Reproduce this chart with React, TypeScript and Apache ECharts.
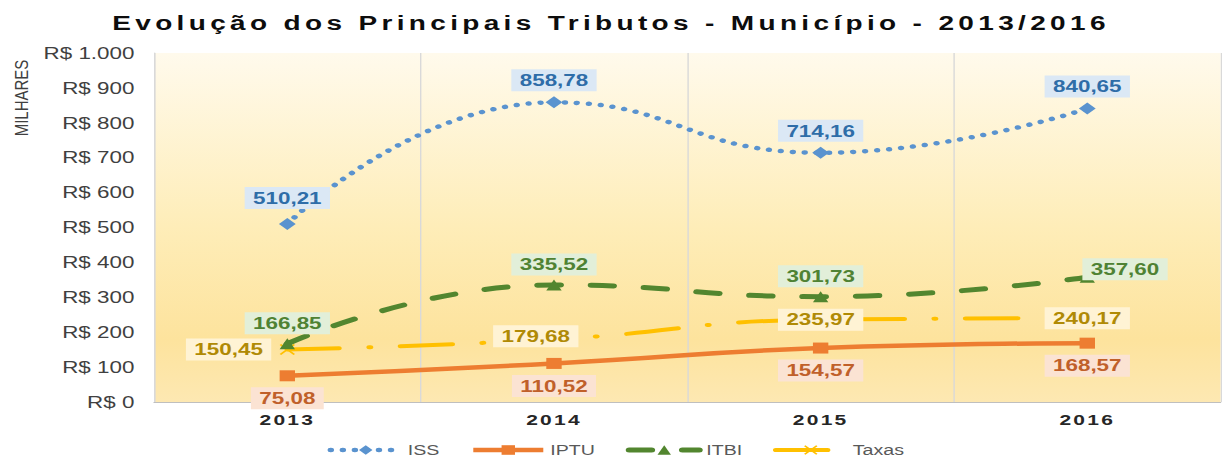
import { useEffect, useRef } from 'react';
import * as echarts from 'echarts';

// The reference picture is horizontally stretched; render narrower and stretch with CSS.
const FULL_W = 1222;
const H = 459;
const STRETCH = 1.4;
const W = FULL_W / STRETCH;

const FONT = '"Liberation Sans", Arial, Helvetica, sans-serif';

const titleText = 'Evolução dos Principais Tributos - Município - 2013/2016';
const yAxisTitle = 'MILHARES';
const categories = ['2013', '2014', '2015', '2016'];
const issValues = [510.21, 858.78, 714.16, 840.65];
const iptuValues = [75.08, 110.52, 154.57, 168.57];
const itbiValues = [166.85, 335.52, 301.73, 357.6];
const taxasValues = [150.45, 179.68, 235.97, 240.17];
const yMin = 0;
const yMax = 1000;
const yInterval = 100;

const fmtValue = (v: number) => v.toFixed(2).replace('.', ',');
const fmtAxis = (v: number) => 'R$ ' + String(v).replace(/\B(?=(\d{3})+(?!\d))/g, '.');

const crossPath =
  'path://M1,0 L5,4 L9,0 L10,1 L6,5 L10,9 L9,10 L5,6 L1,10 L0,9 L4,5 L0,1 Z';

const labelBase = {
  show: true,
  fontSize: 16,
  fontWeight: 'bold' as const,
  fontFamily: FONT,
  padding: [3, 6],
  formatter: (p: any) => fmtValue(p.value),
};

export default function App() {
  const ref = useRef<HTMLDivElement>(null);

  useEffect(() => {
    const el = ref.current;
    if (!el) return;
    const chart = echarts.init(el, undefined, { renderer: 'svg', width: W, height: H });

    const applySpacing = () => {
      el.querySelectorAll('text').forEach((t) => {
        const s = t.textContent || '';
        if (s.startsWith('Evolução')) t.setAttribute('letter-spacing', '3.1');
        else if (categories.includes(s)) t.setAttribute('letter-spacing', '1.6');
      });
    };
    chart.on('finished', applySpacing);

    const option: any = {
      animation: false,
      backgroundColor: '#ffffff',
      title: {
        text: titleText,
        left: 'center',
        top: 8,
        textStyle: { fontSize: 20, fontWeight: 'bold', color: '#0d0d0d', fontFamily: FONT },
      },
      legend: {
        data: ['ISS', 'IPTU', 'ITBI', 'Taxas'],
        left: 234,
        top: 443,
        padding: 0,
        itemWidth: 50,
        itemHeight: 12,
        itemGap: 22,
        lineStyle: { width: 'inherit' },
        textStyle: { fontSize: 14, color: '#595959', fontFamily: FONT },
      },
      grid: {
        left: 110,
        right: 1,
        top: 53,
        bottom: 57,
        show: true,
        borderWidth: 0,
        backgroundColor: {
          type: 'linear',
          x: 0,
          y: 0,
          x2: 0,
          y2: 1,
          colorStops: [
            { offset: 0, color: '#FFFAEC' },
            { offset: 0.5, color: '#FEEDB8' },
            { offset: 0.82, color: '#FDE39D' },
            { offset: 1, color: '#FDE8B2' },
          ],
        },
      },
      graphic: [
        {
          type: 'text',
          x: 15.7,
          y: 98,
          rotation: Math.PI / 2,
          scaleY: 0.85,
          style: {
            text: yAxisTitle,
            fontSize: 15,
            fontFamily: FONT,
            fill: '#404040',
            align: 'center',
            verticalAlign: 'middle',
          },
        },
      ],
      xAxis: {
        type: 'category',
        data: categories,
        boundaryGap: true,
        axisLine: { lineStyle: { color: '#BFBFBF', width: 1 } },
        axisTick: { show: false },
        axisLabel: {
          fontSize: 15,
          fontWeight: 'bold',
          color: '#262626',
          margin: 10,
          fontFamily: FONT,
        },
        splitLine: { show: true, lineStyle: { color: '#D9D9D9', width: 1 } },
      },
      yAxis: {
        type: 'value',
        min: yMin,
        max: yMax,
        interval: yInterval,
        axisLine: { show: true, lineStyle: { color: '#D9D9D9', width: 1 } },
        axisTick: { show: false },
        splitLine: { show: false },
        axisLabel: {
          formatter: fmtAxis,
          fontSize: 16,
          color: '#404040',
          margin: 14,
          fontFamily: FONT,
        },
      },
      series: [
        {
          name: 'ISS',
          type: 'line',
          smooth: 0.5,
          data: issValues.map((v, i) => (i === 0 ? { value: v, label: { distance: 9 } } : v)),
          symbol: 'diamond',
          symbolSize: 12,
          itemStyle: { color: '#5A93CF' },
          lineStyle: { color: '#5A93CF', width: 4.5, type: [0.1, 8.5], cap: 'round' },
          label: {
            ...labelBase,
            position: 'top',
            distance: 5,
            color: '#2E6DA8',
            backgroundColor: '#DBE8F5',
          },
          z: 4,
        },
        {
          name: 'IPTU',
          type: 'line',
          smooth: 0.5,
          data: iptuValues,
          symbol: 'rect',
          symbolSize: 11,
          itemStyle: { color: '#ED7D31' },
          lineStyle: { color: '#ED7D31', width: 4.5 },
          label: {
            ...labelBase,
            position: 'bottom',
            distance: 6,
            color: '#C0602A',
            backgroundColor: '#FBE3D3',
          },
          z: 3,
        },
        {
          name: 'ITBI',
          type: 'line',
          smooth: 0.5,
          data: itbiValues.map((v, i) =>
            i === 3 ? { value: v, label: { position: 'right', distance: -9, offset: [0, -8] } } : v
          ),
          symbol: 'triangle',
          symbolSize: 11,
          itemStyle: { color: '#52862F' },
          lineStyle: { color: '#52862F', width: 5, type: [16, 22], cap: 'round' },
          label: {
            ...labelBase,
            position: 'top',
            distance: 4,
            color: '#4F8233',
            backgroundColor: '#E2EFD9',
          },
          z: 2,
        },
        {
          name: 'Taxas',
          type: 'line',
          smooth: 0.5,
          data: taxasValues.map((v, i) =>
            i === 0
              ? { value: v, label: { position: 'left', distance: 6 } }
              : i === 1
              ? { value: v, label: { position: 'inside', offset: [-13, -3] } }
              : v
          ),
          symbol: crossPath,
          symbolSize: 11,
          itemStyle: { color: '#FFC000' },
          lineStyle: { color: '#FFC000', width: 4, type: [37, 21.5, 1, 21.5], cap: 'round' },
          label: {
            ...labelBase,
            position: 'inside',
            color: '#B08A05',
            backgroundColor: '#FFF3D4',
          },
          z: 1,
        },
      ],
    };

    chart.setOption(option);
    applySpacing();
    const t = setTimeout(applySpacing, 50);

    return () => {
      clearTimeout(t);
      chart.dispose();
    };
  }, []);

  return (
    <div
      style={{
        position: 'fixed',
        left: 0,
        top: 0,
        width: FULL_W,
        height: H,
        overflow: 'hidden',
        background: '#ffffff',
      }}
    >
      <div
        ref={ref}
        style={{
          width: W,
          height: H,
          transform: `scaleX(${STRETCH})`,
          transformOrigin: '0 0',
        }}
      />
    </div>
  );
}
